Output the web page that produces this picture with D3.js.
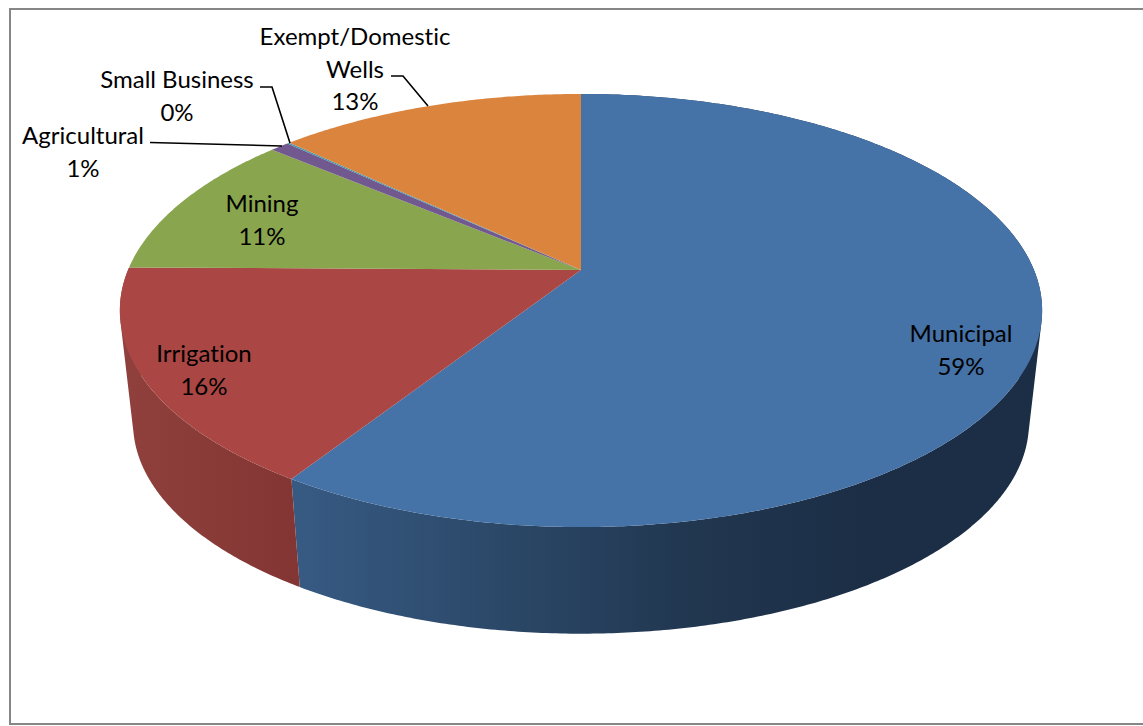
<!DOCTYPE html>
<html>
<head>
<meta charset="utf-8">
<script src="https://cdn.jsdelivr.net/npm/d3@7"></script>
<style>
html, body { margin: 0; padding: 0; background: #fff; overflow: hidden; }
text { font-family: Lato, "Open Sans", sans-serif; font-size: 24px; fill: #000; font-variant-ligatures: none; }
</style>
</head>
<body>
<svg id="chart" width="1143" height="726"></svg>
<script>
var WIDTH = 1143;
var HEIGHT = 726;

//chart data
var categories = ["Municipal", "Irrigation", "Mining", "Agricultural", "Small Business", "Exempt/Domestic Wells"];
var shares = [59.05, 16.15, 10.95, 0.8, 0.1, 12.95];
var percentLabels = ["59%", "16%", "11%", "1%", "0%", "13%"];
var topColors = ["#4572a7", "#aa4643", "#89a54e", "#71588f", "#4198af", "#db843d"];

//label layout: lines and anchor of each label block (x center, first baseline)
var labelLines = [["Municipal"], ["Irrigation"], ["Mining"], ["Agricultural"], ["Small Business"], ["Exempt/Domestic", "Wells"]];
var labelAnchors = [[961, 342], [204, 362], [262, 212], [83, 144], [177, 88], [355, 45]];
var LINE_GAP = 32.5;

//leader lines, from label to slice
var leaders = [
    [[150, 142.5], [282, 146]],
    [[260, 87], [272, 87], [290, 143]],
    [[391, 76], [403, 76], [428, 106]]
];

var svg = d3.select("#chart");

//perspective view of the round pie: the top face is an ellipse with the centre pushed back
var PERSPECTIVE = -0.187;
function projector(cx, cy, fx, fy) {
    return function(angle, r) {
        var X = r * Math.sin(angle);
        var Y = -r * Math.cos(angle);
        var w = 1 + PERSPECTIVE * Y;
        return [cx + fx * X / w, cy + fy * Y / w];
    };
}
var topFace = projector(581, 270, 453, 209);
var bottomFace = projector(581, 384, 440, 203);

var arcs = d3.pie().sort(null).value(function(d) { return d; })(shares);

//chart area border, runs off the right edge like the original
svg.append("rect")
    .attr("x", 10)
    .attr("y", 9)
    .attr("width", WIDTH + 20)
    .attr("height", 715)
    .attr("fill", "#fff")
    .attr("stroke", "#868686")
    .attr("stroke-width", 2);

function sampleAngles(a0, a1) {
    var n = Math.max(2, Math.ceil((a1 - a0) / (Math.PI / 360)));
    return d3.range(n + 1).map(function(i) { return a0 + (a1 - a0) * i / n; });
}

//side wall gradients, they get darker to the right
var sideStops = [
    [[300, "#375a83"], [500, "#2b4868"], [700, "#21364f"], [860, "#1b2e46"]],
    [[130, "#8f403d"], [300, "#823532"]]
];
var defs = svg.append("defs");
sideStops.forEach(function(stops, i) {
    var x0 = stops[0][0], x1 = stops[stops.length - 1][0];
    var offset = d3.scaleLinear().domain([x0, x1]).range([0, 1]);
    defs.append("linearGradient")
        .attr("id", "side" + i)
        .attr("gradientUnits", "userSpaceOnUse")
        .attr("x1", x0).attr("x2", x1).attr("y1", 0).attr("y2", 0)
        .selectAll("stop")
        .data(stops)
        .enter()
        .append("stop")
        .attr("offset", function(d) { return offset(d[0]); })
        .attr("stop-color", function(d) { return d[1]; });
});

//a wall is a lot of small quads in one path, all wound the same way so they just union
function wallPath(d) {
    var angles = sampleAngles(d.startAngle, d.endAngle);
    var p = d3.path();
    for (var i = 0; i < angles.length - 1; i++) {
        var quad = [
            topFace(angles[i], 1), topFace(angles[i + 1], 1),
            bottomFace(angles[i + 1], 1), bottomFace(angles[i], 1)
        ];
        if (d3.polygonArea(quad) < 0) quad.reverse();
        p.moveTo(quad[0][0], quad[0][1]);
        p.lineTo(quad[1][0], quad[1][1]);
        p.lineTo(quad[2][0], quad[2][1]);
        p.lineTo(quad[3][0], quad[3][1]);
        p.closePath();
    }
    return p.toString();
}

//only the two front slices show a wall
svg.append("g")
    .selectAll("path")
    .data(arcs.slice(0, 2))
    .enter()
    .append("path")
    .attr("d", wallPath)
    .attr("fill", function(d, i) { return "url(#side" + i + ")"; });

//top face
var line = d3.line();
svg.append("g")
    .selectAll("path")
    .data(arcs)
    .enter()
    .append("path")
    .attr("d", function(d) {
        var pts = sampleAngles(d.startAngle, d.endAngle).map(function(a) { return topFace(a, 1); });
        pts.unshift(topFace(0, 0));
        return line(pts) + "Z";
    })
    .attr("fill", function(d, i) { return topColors[i]; });

//leader lines
svg.append("g")
    .selectAll("path")
    .data(leaders)
    .enter()
    .append("path")
    .attr("d", line)
    .attr("fill", "none")
    .attr("stroke", "#000")
    .attr("stroke-width", 1.6);

//labels
var labels = svg.append("g")
    .selectAll("text")
    .data(categories)
    .enter()
    .append("text")
    .attr("text-anchor", "middle");

labels.each(function(name, i) {
    var rows = labelLines[i].concat(percentLabels[i]);
    d3.select(this).selectAll("tspan")
        .data(rows)
        .enter()
        .append("tspan")
        .attr("x", labelAnchors[i][0])
        .attr("y", function(r, j) { return labelAnchors[i][1] + j * LINE_GAP; })
        .text(function(r) { return r; });
});
</script>
</body>
</html>
